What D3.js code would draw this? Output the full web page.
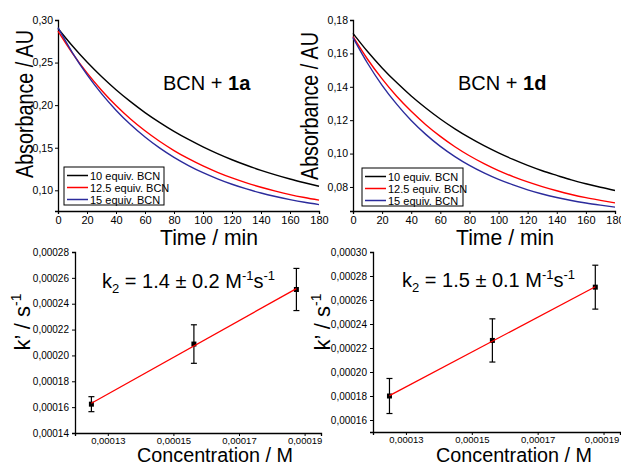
<!DOCTYPE html>
<html>
<head>
<meta charset="utf-8">
<script src="https://cdn.jsdelivr.net/npm/d3@7"></script>
<style>
body { margin: 0; background: #fff; }
text { font-family: "Liberation Sans", Arial, sans-serif; fill: #000; }
</style>
</head>
<body>
<div id="chart"></div>
<script>
var width = 621,
    height = 466;

// decay curves, read every 10 min
var times = [0, 10, 20, 30, 40, 50, 60, 70, 80, 90, 100, 110, 120, 130, 140, 150, 160, 170, 180];

var absA10  = [0.290, 0.2694, 0.2506, 0.2336, 0.2181, 0.2041, 0.1913, 0.1798, 0.1692, 0.1597, 0.1510, 0.1431, 0.1359, 0.1294, 0.1235, 0.1182, 0.1133, 0.1089, 0.1048];
var absA125 = [0.287, 0.2609, 0.2379, 0.2176, 0.1996, 0.1838, 0.1699, 0.1576, 0.1467, 0.1371, 0.1286, 0.1211, 0.1145, 0.1087, 0.1036, 0.0991, 0.0950, 0.0915, 0.0884];
var absA15  = [0.291, 0.2615, 0.2358, 0.2135, 0.1941, 0.1772, 0.1626, 0.1498, 0.1387, 0.1291, 0.1207, 0.1135, 0.1071, 0.1016, 0.0968, 0.0927, 0.0891, 0.0859, 0.0832];

var absD10  = [0.172, 0.1611, 0.1513, 0.1425, 0.1345, 0.1273, 0.1207, 0.1148, 0.1095, 0.1047, 0.1004, 0.0965, 0.0929, 0.0897, 0.0869, 0.0842, 0.0819, 0.0798, 0.0779];
var absD125 = [0.170, 0.1565, 0.1447, 0.1343, 0.1253, 0.1173, 0.1103, 0.1041, 0.0987, 0.0940, 0.0898, 0.0862, 0.0830, 0.0802, 0.0777, 0.0755, 0.0736, 0.0720, 0.0705];
var absD15  = [0.1695, 0.1541, 0.1409, 0.1296, 0.1198, 0.1115, 0.1043, 0.0982, 0.0929, 0.0884, 0.0845, 0.0812, 0.0783, 0.0758, 0.0737, 0.0719, 0.0704, 0.0691, 0.0679];

var seriesNames = ["10 equiv. BCN", "12.5 equiv. BCN", "15 equiv. BCN"];

// k' vs concentration
var conc  = [0.000125, 0.00015625, 0.0001875];
var kA    = [0.0001623, 0.0002088, 0.0002510];
var kAerr = [0.0000058, 0.0000149, 0.0000163];
var kD    = [0.0001800, 0.0002263, 0.0002707];
var kDerr = [0.0000146, 0.0000180, 0.0000183];

// tick labels
var timeTicks = [0, 20, 40, 60, 80, 100, 120, 140, 160, 180];
var absTicksA = [0.10, 0.15, 0.20, 0.25, 0.30];
var absTicksD = [0.08, 0.10, 0.12, 0.14, 0.16, 0.18];
var concTicks = [0.00013, 0.00015, 0.00017, 0.00019];
var kTicksA = [0.00014, 0.00016, 0.00018, 0.00020, 0.00022, 0.00024, 0.00026, 0.00028];
var kTicksD = [0.00016, 0.00018, 0.00020, 0.00022, 0.00024, 0.00026, 0.00028, 0.00030];

var colors = ["#000000", "#ff0000", "#2b2b9c"];

var loc = d3.formatLocale({decimal: ",", thousands: ".", grouping: [3], currency: ["", ""]});
var f2 = loc.format(".2f"),
    f5 = loc.format(".5f");

var svg = d3.select("#chart").append("svg")
    .attr("width", width)
    .attr("height", height);

function styleAxis(g, fs) {
  g.select(".domain").attr("stroke", "#000").attr("stroke-width", 1.3);
  g.selectAll(".tick line").attr("stroke", "#000").attr("stroke-width", 1);
  g.selectAll(".tick text").attr("font-size", fs + "px")
    .attr("font-family", "\"Liberation Sans\", Arial, sans-serif");
}

//top panels: absorbance decay
function decayPanel(p) {
  var x = d3.scaleLinear().domain([0, 180]).range([p.x0, p.x1]);
  var y = d3.scaleLinear().domain(p.ydom).range([p.y1, p.y0]);

  var gx = svg.append("g")
      .attr("transform", "translate(0," + p.y1 + ")")
      .call(d3.axisBottom(x).tickValues(timeTicks).tickSize(3).tickPadding(2).tickFormat(d3.format("d")));
  styleAxis(gx, 11);

  var gy = svg.append("g")
      .attr("transform", "translate(" + p.x0 + ",0)")
      .call(d3.axisLeft(y).tickValues(p.yticks).tickSize(3).tickPadding(2).tickFormat(f2));
  styleAxis(gy, 10.5);

  var line = d3.line()
      .x(function(d, i) { return x(times[i]); })
      .y(function(d) { return y(d); })
      .curve(d3.curveMonotoneX);

  p.series.forEach(function(s, i) {
    svg.append("path")
        .attr("d", line(s))
        .attr("fill", "none")
        .attr("stroke", colors[i])
        .attr("stroke-width", 1.4);
  });

  //legend
  var lg = svg.append("g").attr("transform", "translate(" + p.lx + "," + p.ly + ")");
  lg.append("rect")
      .attr("width", p.lw).attr("height", 38)
      .attr("fill", "#fff").attr("stroke", "#000").attr("stroke-width", 1);
  seriesNames.forEach(function(n, i) {
    lg.append("line")
        .attr("x1", 3).attr("x2", 24)
        .attr("y1", 8.5 + i * 12).attr("y2", 8.5 + i * 12)
        .attr("stroke", colors[i]).attr("stroke-width", 1.5);
    lg.append("text")
        .attr("x", 26).attr("y", 12.5 + i * 12)
        .attr("font-size", "11px")
        .text(n);
  });

  //title
  var t = svg.append("text")
      .attr("x", p.tx).attr("y", 90)
      .attr("font-size", "20px");
  t.append("tspan").text("BCN + ");
  t.append("tspan").attr("font-weight", "bold").text(p.tag);

  svg.append("text")
      .attr("transform", "translate(" + p.ylx + "," + p.yly + ") rotate(-90)")
      .attr("text-anchor", "middle")
      .attr("font-size", "23px")
      .attr("textLength", 148)
      .attr("lengthAdjust", "spacingAndGlyphs")
      .text("Absorbance / AU");

  svg.append("text")
      .attr("x", p.xlx).attr("y", 245)
      .attr("text-anchor", "middle")
      .attr("font-size", "22px")
      .attr("textLength", 98)
      .attr("lengthAdjust", "spacingAndGlyphs")
      .text("Time / min");
}

//bottom panels: k' vs concentration
function ratePanel(p) {
  var x = d3.scaleLinear().domain([0.00012, 0.000195]).range([p.x0, p.x1]);
  var y = d3.scaleLinear().domain(p.ydom).range([p.y1, p.y0]);

  var gx = svg.append("g")
      .attr("transform", "translate(0," + p.y1 + ")")
      .call(d3.axisBottom(x).tickValues(concTicks).tickSize(3).tickPadding(1).tickFormat(f5));
  styleAxis(gx, 9.5);
  // keep the last label inside the page
  gx.selectAll(".tick text").filter(function(d) { return d === 0.00019; }).attr("dx", p.lastDx);

  var gy = svg.append("g")
      .attr("transform", "translate(" + p.x0 + ",0)")
      .call(d3.axisLeft(y).tickValues(p.yticks).tickSize(3).tickPadding(3).tickFormat(f5));
  styleAxis(gy, 10);

  //error bars
  p.k.forEach(function(v, i) {
    var cx = x(conc[i]), e = p.err[i];
    svg.append("line")
        .attr("x1", cx).attr("x2", cx)
        .attr("y1", y(v - e)).attr("y2", y(v + e))
        .attr("stroke", "#000").attr("stroke-width", 1.2);
    [v - e, v + e].forEach(function(c) {
      svg.append("line")
          .attr("x1", cx - 3).attr("x2", cx + 3)
          .attr("y1", y(c)).attr("y2", y(c))
          .attr("stroke", "#000").attr("stroke-width", 1.2);
    });
    svg.append("rect")
        .attr("x", cx - 2.5).attr("y", y(v) - 2.5)
        .attr("width", 5).attr("height", 5)
        .attr("fill", "#000");
  });

  //linear fit
  var mx = d3.mean(conc), my = d3.mean(p.k);
  var sxy = d3.sum(conc, function(c, i) { return (c - mx) * (p.k[i] - my); });
  var sxx = d3.sum(conc, function(c) { return (c - mx) * (c - mx); });
  var b = sxy / sxx, a = my - b * mx;
  var ends = [conc[0], conc[conc.length - 1]];
  svg.append("line")
      .attr("x1", x(ends[0])).attr("y1", y(a + b * ends[0]))
      .attr("x2", x(ends[1])).attr("y2", y(a + b * ends[1]))
      .attr("stroke", "#ff0000").attr("stroke-width", 1.3);

  //k2 text
  var t = svg.append("text")
      .attr("x", p.kx).attr("y", p.ky)
      .attr("font-size", "20px");
  t.append("tspan").text("k");
  t.append("tspan").attr("font-size", "13px").attr("dy", 5).text("2");
  t.append("tspan").attr("dy", -5).text(" = " + p.k2 + " M");
  t.append("tspan").attr("font-size", "13px").attr("dy", -8).text("-1");
  t.append("tspan").attr("dy", 8).text("s");
  t.append("tspan").attr("font-size", "13px").attr("dy", -8).text("-1");

  var yl = svg.append("text")
      .attr("transform", "translate(" + p.ylx + ",322) rotate(-90)")
      .attr("text-anchor", "middle")
      .attr("font-size", "22px");
  yl.append("tspan").text("k\u2019 / s");
  yl.append("tspan").attr("font-size", "14px").attr("dy", -9).text("-1");

  svg.append("text")
      .attr("x", p.xlx).attr("y", 462)
      .attr("text-anchor", "middle")
      .attr("font-size", "20px")
      .attr("textLength", 156)
      .attr("lengthAdjust", "spacingAndGlyphs")
      .text("Concentration / M");
}

decayPanel({x0: 58, x1: 319, y0: 20, y1: 211, ydom: [0.0757, 0.30], yticks: absTicksA,
  series: [absA10, absA125, absA15], lx: 64, ly: 167, lw: 100, tx: 163, tag: "1a",
  ylx: 33, yly: 104, xlx: 209});

decayPanel({x0: 353, x1: 615, y0: 20, y1: 211, ydom: [0.0656, 0.18], yticks: absTicksD,
  series: [absD10, absD125, absD15], lx: 362, ly: 168, lw: 101, tx: 458, tag: "1d",
  ylx: 318, yly: 106, xlx: 505});

ratePanel({x0: 75, x1: 321, y0: 252, y1: 433, ydom: [0.00014, 0.00028], yticks: kTicksA,
  k: kA, err: kAerr, kx: 102, ky: 288, k2: "1.4 \u00b1 0.2", ylx: 30, xlx: 215, lastDx: 0});

ratePanel({x0: 373, x1: 620, y0: 252, y1: 432, ydom: [0.00015, 0.00030], yticks: kTicksD,
  k: kD, err: kDerr, kx: 402, ky: 287, k2: "1.5 \u00b1 0.1", ylx: 330, xlx: 514, lastDx: -2});
</script>
</body>
</html>
